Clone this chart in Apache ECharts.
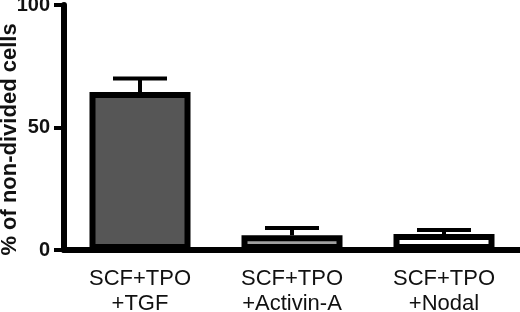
<!DOCTYPE html>
<html>
<head>
<meta charset="utf-8">
<script src="https://cdn.jsdelivr.net/npm/echarts@6/dist/echarts.min.js"></script>
<style>
  html, body { margin: 0; padding: 0; background: #fff; }
  #chart { width: 520px; height: 312px; }
</style>
</head>
<body>
<div id="chart"></div>
<script>
// values
const categories = ["SCF+TPO\n+TGF", "SCF+TPO\n+Activin-A", "SCF+TPO\n+Nodal"]
const means = [64.5, 6, 6.5]
const upperErr = [70, 9, 8.2]
const barColors = ["#565656", "#a0a0a0", "#ffffff"]
const yTicks = [0, 50, 100]

const chart = echarts.init(document.getElementById("chart"))

const font = "'Liberation Sans', Arial, Helvetica, sans-serif"

const option = {
  backgroundColor: "#fff",
  animation: false,
  grid: { left: 64, right: 0, top: 5, bottom: 62, outerBoundsMode: "none", containLabel: false },
  xAxis: {
    type: "category",
    data: categories,
    axisLine: { lineStyle: { color: "#000", width: 6 } },
    axisTick: { alignWithLabel: true, length: 9, lineStyle: { color: "#000", width: 5 } },
    axisLabel: {
      color: "#111",
      fontFamily: font,
      fontSize: 22,
      lineHeight: 25,
      margin: 16,
    },
  },
  yAxis: {
    type: "value",
    min: yTicks[0],
    max: yTicks[yTicks.length - 1],
    interval: 50,
    name: "% of non-divided cells",
    nameLocation: "middle",
    nameGap: 43,
    nameRotate: 90,
    nameMoveOverlap: false,
    nameTextStyle: {
      color: "#111",
      fontFamily: font,
      fontSize: 22,
      fontWeight: "bold",
      padding: [0, 24, 0, 0],
    },
    axisLine: { show: true, lineStyle: { color: "#000", width: 6 } },
    axisTick: { show: true, length: 10, lineStyle: { color: "#000", width: 4 } },
    splitLine: { show: false },
    axisLabel: {
      color: "#111",
      fontFamily: font,
      fontSize: 20,
      fontWeight: "bold",
      margin: 14,
    },
  },
  series: [
    {
      type: "custom",
      z: 1,
      data: categories.map((c, i) => [i, means[i], upperErr[i]]),
      renderItem: (params, api) => {
        const top = api.coord([api.value(0), api.value(2)])
        const base = api.coord([api.value(0), api.value(1)])
        const half = 27
        const style = { stroke: "#000", lineWidth: 4 }
        return {
          type: "group",
          children: [
            { type: "line", shape: { x1: top[0], y1: top[1], x2: base[0], y2: base[1] }, style },
            { type: "line", shape: { x1: top[0] - half, y1: top[1], x2: top[0] + half, y2: top[1] }, style },
          ],
        }
      },
    },
    {
      type: "bar",
      z: 2,
      barWidth: 101,
      data: means.map((v, i) => ({
        value: v,
        itemStyle: { color: barColors[i], borderColor: "#000", borderWidth: 6 },
      })),
    },
  ],
}

chart.setOption(option)
</script>
</body>
</html>
